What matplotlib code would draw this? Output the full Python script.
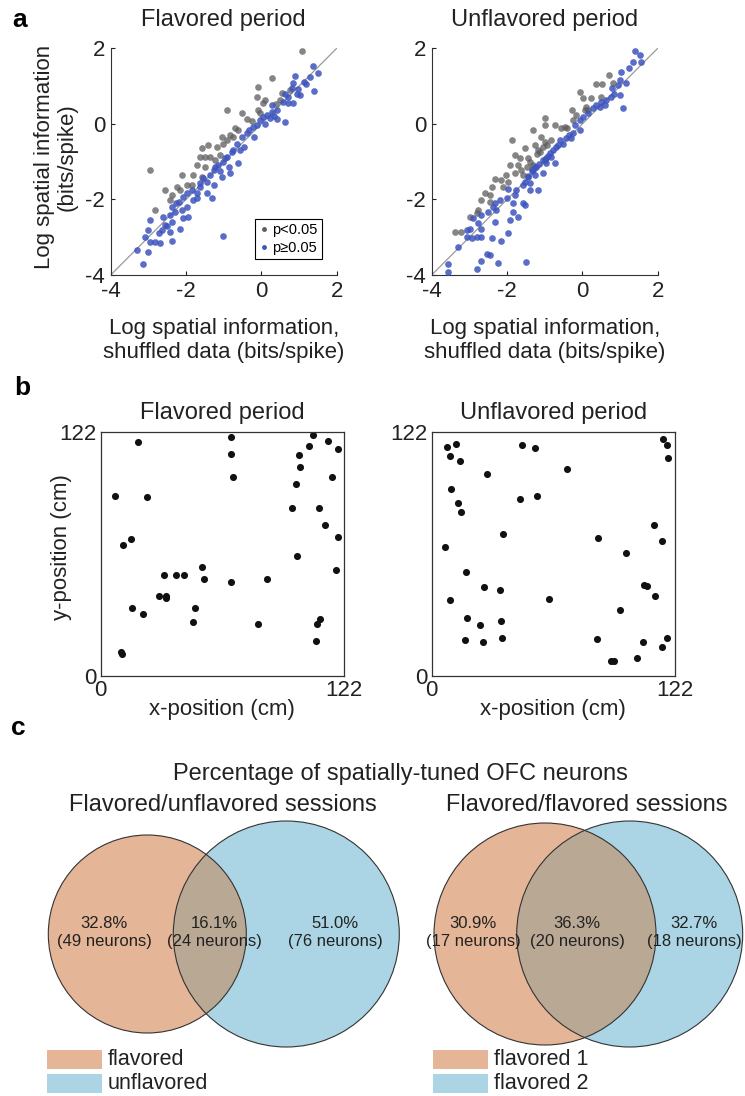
import matplotlib.pyplot as plt
import numpy as np
from matplotlib.patches import Circle, Polygon, Rectangle
from matplotlib.lines import Line2D

plt.rcParams['font.family'] = ['Liberation Sans', 'DejaVu Sans']
plt.rcParams['axes.unicode_minus'] = False

# ---- panel a: log spatial information, shuffled (x) vs real (y) ----
fl_sig_x = [1.07, 0.27, -0.08, -0.12, 0.10, 0.05, -0.92, -0.52, -0.08, -0.04, -0.26, -0.39, 0.54, 0.50,
            0.39, 0.76, -0.70, -0.61, -0.74, -0.92, -1.05, -1.01, -1.19, -1.41, -1.58, -1.36, -1.50, -1.63,
            -1.72, -1.50, -1.81, -1.58, -2.12, -2.96, -1.98, -1.85, -2.16, -2.56, -2.38, -2.42, -2.82, -0.83,
            -1.10, -1.23, -2.25]
fl_sig_y = [1.94, 1.22, 0.97, 0.72, 0.63, 0.56, 0.37, 0.28, 0.37, 0.30, 0.08, 0.12, 0.81, 0.63,
            0.53, 0.90, -0.12, -0.16, -0.34, -0.43, -0.34, -0.52, -0.60, -0.56, -0.65, -0.87, -0.87, -0.87,
            -1.09, -1.13, -1.35, -1.40, -1.35, -1.22, -1.62, -1.62, -1.75, -1.75, -1.88, -2.02, -2.28, -0.30,
            -0.83, -0.96, -1.66]
fl_ns_x = [1.36, 1.50, 0.89, 1.29, 1.12, 0.85, 1.19, 0.81, 0.63, 0.98, 1.40, 0.72, 0.85, 0.58, 0.41,
           0.27, 0.14, 0.23, 0.05, -0.12, -0.23, 0.41, 0.63, -0.39, -0.52, -0.65, -0.57, -0.79, -0.61,
           -0.92, -1.01, -1.14, -0.83, -1.05, -1.27, -1.36, -1.45, -1.27, -1.54, -1.63, -1.45, -1.32,
           -1.72, -1.81, -1.98, -2.07, -2.20, -1.98, -1.94, -2.07, -2.29, -2.38, -2.42, -2.60, -2.56,
           -2.65, -2.38, -2.16, -2.42, -2.73, -2.69, -2.38, -2.96, -3.00, -3.09, -2.96, -2.82, -3.00,
           -3.31, -3.13, -1.01, 1.03, 0.27, -0.04, -0.34, -0.74, -0.96, -1.23, -1.63, -1.85, -2.27, -2.12,
           0.70, 0.33, -0.20, -0.45, -1.10, -1.70, -2.50, 0.95, 0.10, -0.85]
fl_ns_y = [1.54, 1.34, 1.27, 1.25, 1.12, 1.07, 1.06, 0.94, 0.79, 0.91, 0.87, 0.72, 0.56, 0.59, 0.37,
           0.32, 0.23, 0.15, 0.17, -0.03, -0.07, 0.12, 0.06, -0.25, -0.34, -0.52, -0.69, -0.74, -1.03,
           -0.87, -1.00, -1.09, -1.31, -1.40, -1.22, -1.35, -1.53, -1.62, -1.44, -1.57, -1.84, -1.97,
           -1.84, -2.02, -1.84, -1.93, -2.06, -2.19, -2.46, -2.50, -2.32, -2.19, -2.41, -2.46, -2.68,
           -2.81, -2.59, -2.77, -2.86, -2.90, -3.16, -3.10, -2.55, -2.81, -2.99, -3.12, -3.12, -3.38,
           -3.34, -3.71, -2.97, 0.76, 0.50, 0.10, -0.16, -0.69, -0.91, -1.13, -1.66, -1.75, -2.10, -2.28,
           0.55, 0.20, -0.35, -0.60, -1.25, -1.95, -2.70, 0.80, 0.00, -1.15]

uf_sig_x = [0.70, 0.35, 0.53, 0.81, -0.05, 0.03, 0.24, 0.50, -0.27, 0.06, 0.15, -0.16, -0.25, -1.00,
            -1.00, -0.73, -0.56, -0.47, -1.31, -1.09, -1.86, -1.53, -1.26, -1.00, -0.82, -1.13, -1.79,
            -1.66, -1.44, -1.93, -1.71, -1.48, -1.62, -1.79, -1.57, -2.02, -2.15, -1.97, -2.32, -2.41,
            -2.10, -2.59, -2.46, -2.68, -2.46, -2.76, -2.99, -2.81, -3.38, -3.21, -1.18, -1.40, -1.31,
            -1.20, -1.35, -1.05, -0.95, -0.40, 0.10]
uf_sig_y = [1.29, 1.06, 1.06, 1.09, 0.85, 0.68, 0.68, 0.72, 0.37, 0.37, 0.38, 0.23, 0.10, 0.15,
            -0.03, -0.03, -0.12, -0.07, -0.16, -0.34, -0.43, -0.65, -0.56, -0.47, -0.43, -0.74, -0.82,
            -0.91, -0.91, -1.09, -1.09, -1.13, -1.22, -1.31, -1.35, -1.35, -1.49, -1.53, -1.47, -1.66,
            -1.66, -1.84, -1.88, -2.02, -2.06, -2.28, -2.46, -2.37, -2.85, -2.85, -0.69, -1.00, -1.09,
            -0.80, -1.20, -0.60, -0.55, -0.10, 0.45]
uf_ns_x = [1.41, 1.52, 1.34, 1.56, 1.03, 1.23, 0.99, 1.16, 0.94, 0.79, 0.99, 0.77, 0.63, 0.50, 0.37,
           0.46, 1.07, 0.28, 0.15, 0.02, -0.07, -0.20, -0.07, -0.25, -0.43, -0.29, -0.60, -0.51, -0.69,
           -0.78, -0.87, -0.96, -1.04, -0.96, -0.73, -0.82, -1.22, -1.31, -1.26, -1.04, -1.44, -1.53,
           -1.40, -1.57, -1.40, -1.18, -1.75, -1.97, -1.79, -2.01, -2.19, -2.32, -2.37, -2.50, -2.28,
           -1.84, -1.53, -1.57, -1.84, -1.71, -1.93, -2.32, -2.68, -2.90, -2.76, -2.99, -2.68, -3.07,
           -2.94, -2.68, -2.81, -2.41, -1.97, -2.15, -3.29, -2.54, -2.46, -2.68, -2.23, -1.50, -2.79,
           -3.58, -3.56, -3.07, -1.35, -1.45, -1.25, -0.90, -0.65, -0.35, 0.60, 0.85, -1.15, -1.00]
uf_ns_y = [1.94, 1.82, 1.65, 1.65, 1.38, 1.49, 1.16, 1.07, 1.03, 0.94, 0.76, 0.72, 0.63, 0.59, 0.50,
           0.44, 0.41, 0.41, 0.30, 0.17, 0.10, -0.03, -0.16, -0.25, -0.38, -0.38, -0.43, -0.52, -0.60,
           -0.69, -0.78, -0.91, -0.96, -1.04, -1.03, -0.87, -1.13, -1.22, -1.35, -1.31, -1.40, -1.53,
           -1.57, -1.62, -1.75, -1.75, -1.75, -1.73, -1.88, -1.97, -2.02, -2.10, -2.19, -2.32, -2.28,
           -2.10, -2.15, -2.10, -2.32, -2.46, -2.55, -2.59, -2.41, -2.50, -2.63, -2.77, -2.77, -2.99,
           -3.03, -2.99, -2.99, -3.03, -2.90, -3.10, -3.25, -3.45, -3.47, -3.63, -3.67, -3.65, -3.85,
           -3.72, -3.91, -2.81, -1.25, -1.38, -1.15, -0.85, -0.55, -0.30, 0.50, 0.78, -1.05, -0.95]

# ---- panel b: place-field peak positions (cm) ----
fl_pos_x = [65.2, 106.3, 18.9, 113.8, 104.6, 118.8, 65.5, 99.4, 99.9, 66.3, 115.8, 97.9, 7.2, 23.1,
            96.1, 109.5, 112.3, 119.2, 15.0, 11.2, 98.3, 51.0, 118.0, 31.6, 37.8, 42.0, 51.8, 65.5,
            83.6, 29.4, 32.6, 32.6, 15.5, 21.2, 47.3, 46.5, 109.8, 108.5, 79.1, 108.0, 10.4, 10.5]
fl_pos_y = [119.5, 120.2, 116.7, 117.2, 115.0, 113.5, 110.8, 110.4, 104.4, 99.4, 99.2, 95.7, 89.9, 89.2,
            83.7, 83.7, 75.6, 69.6, 68.4, 65.6, 60.1, 54.4, 53.1, 50.3, 50.3, 50.3, 48.4, 46.8,
            48.4, 39.9, 39.9, 38.8, 34.0, 30.8, 34.0, 27.0, 28.6, 26.0, 26.1, 17.5, 11.8, 11.0]
uf_pos_x = [116.1, 118.2, 7.5, 12.0, 45.5, 51.8, 9.2, 14.4, 118.3, 27.9, 67.9, 9.9, 44.3, 52.8, 13.0,
            14.5, 35.9, 111.3, 83.6, 115.5, 6.9, 97.3, 17.0, 26.1, 34.3, 58.7, 106.6, 107.8, 112.1, 9.2,
            94.4, 17.9, 24.2, 34.9, 16.9, 25.6, 35.3, 82.7, 106.1, 118.2, 115.7, 103.1, 89.7, 91.5]
uf_pos_y = [118.3, 115.3, 114.5, 115.8, 115.5, 113.8, 110.0, 107.5, 109.0, 100.9, 103.4, 93.5, 88.4, 90.0,
            86.2, 82.1, 71.1, 75.6, 68.9, 67.2, 64.2, 61.3, 51.9, 44.3, 43.1, 38.4, 45.3, 45.0, 39.8,
            37.8, 32.8, 29.0, 25.5, 27.5, 18.1, 17.0, 19.1, 18.5, 16.8, 19.0, 14.6, 8.8, 7.5, 7.5]

# ---- panel c: venn percentages / counts ----
venn_titles = ['Flavored/unflavored sessions', 'Flavored/flavored sessions']
venn_pct = [[32.8, 16.1, 51.0], [30.9, 36.3, 32.7]]
venn_n = [[49, 24, 76], [17, 20, 18]]
venn_legend = [['flavored', 'unflavored'], ['flavored 1', 'flavored 2']]

W, H = 745, 1096
fig = plt.figure(figsize=(W / 100, H / 100), dpi=100)


def px_axes(x0, y0, x1, y1):
    # pixel box (top-left origin) -> figure fraction axes
    return fig.add_axes([x0 / W, 1 - y1 / H, (x1 - x0) / W, (y1 - y0) / H])


GRAY = '#5c5c5c'
BLUE = '#3d54bd'

for k, (x0, sx, sy, nx, ny, title) in enumerate([
        (110.7, fl_sig_x, fl_sig_y, fl_ns_x, fl_ns_y, 'Flavored period'),
        (431.7, uf_sig_x, uf_sig_y, uf_ns_x, uf_ns_y, 'Unflavored period')]):
    ax = px_axes(x0, 48.3, x0 + 226, 275)
    ax.plot([-4, 2], [-4, 2], color='#9a9a9a', lw=0.9, zorder=1)
    ax.scatter(sx, sy, s=23, color=GRAY, alpha=0.75, linewidths=0, zorder=2)
    ax.scatter(nx, ny, s=23, color=BLUE, alpha=0.85, linewidths=0, zorder=3)
    ax.set_xlim(-4, 2)
    ax.set_ylim(-4, 2)
    ax.set_xticks([-4, -2, 0, 2])
    ax.set_yticks([-4, -2, 0, 2])
    ax.tick_params(direction='in', length=3, width=0.8, labelsize=16, pad=4, colors='#222222')
    for s in ['top', 'right']:
        ax.spines[s].set_visible(False)
    for s in ['left', 'bottom']:
        ax.spines[s].set_linewidth(0.8)
        ax.spines[s].set_color('#333333')
    ax.text(0.5, 1.125, title, transform=ax.transAxes, ha='center', va='center', fontsize=17, color='#222222')
    ax.text(0.5, -0.29, 'Log spatial information,\nshuffled data (bits/spike)', transform=ax.transAxes,
            ha='center', va='center', fontsize=16, color='#222222', linespacing=1.2)
    if k == 0:
        ax.text(-0.245, 0.52, 'Log spatial information\n(bits/spike)', transform=ax.transAxes, rotation=90,
                ha='center', va='center', fontsize=16, color='#222222', linespacing=1.1)
        handles = [Line2D([], [], ls='', marker='o', ms=3.5, color=GRAY, mec='none'),
                   Line2D([], [], ls='', marker='o', ms=3.5, color=BLUE, mec='none')]
        leg = ax.legend(handles, ['p<0.05', 'p\u22650.05'], loc='lower right', bbox_to_anchor=(0.935, 0.07),
                        fontsize=10.5, handlelength=0.6, handletextpad=0.3, borderpad=0.3, labelspacing=0.25,
                        fancybox=False, framealpha=1, borderaxespad=0)
        leg.get_frame().set_edgecolor('black')
        leg.get_frame().set_linewidth(0.8)

for k, (x0, px, py, title) in enumerate([(100.7, fl_pos_x, fl_pos_y, 'Flavored period'),
                                          (431.7, uf_pos_x, uf_pos_y, 'Unflavored period')]):
    ax = px_axes(x0, 431.7, x0 + 243.3, 676)
    ax.scatter(px, py, s=26, color='#111111', linewidths=0)
    ax.set_xlim(0, 122)
    ax.set_ylim(0, 122)
    ax.set_xticks([0, 122])
    ax.set_yticks([0, 122])
    ax.tick_params(length=0, labelsize=16, pad=3, colors='#222222')
    for s in ax.spines.values():
        s.set_linewidth(0.9)
        s.set_color('#333333')
    ax.text(0.5, 1.077, title, transform=ax.transAxes, ha='center', va='center', fontsize=17, color='#222222')
    ax.text(0.5, -0.139, 'x-position (cm)', transform=ax.transAxes, ha='center', va='center',
            fontsize=16, color='#222222')
    if k == 0:
        ax.text(-0.16, 0.528, 'y-position (cm)', transform=ax.transAxes, rotation=90, ha='center',
                va='center', fontsize=16, color='#222222')

# panel c drawn in pixel coordinates
axc = fig.add_axes([0, 0, 1, 0.36])
axc.set_xlim(0, W)
axc.set_ylim(H, H - 0.36 * H)
axc.axis('off')

SALMON = '#e4b597'
LBLUE = '#abd5e4'
MIX = '#b9a894'
circles = [((147.3, 934, 99), (286.3, 934, 113)), ((545, 934, 111), (629.7, 934, 113))]
text_x = [(104, 214, 335), (473, 577, 694)]
title_x = [223, 587]
leg_x = [47, 433]

for i in range(2):
    (x1, y1, r1), (x2, y2, r2) = circles[i]
    axc.add_patch(Circle((x1, y1), r1, facecolor=SALMON, edgecolor='none'))
    axc.add_patch(Circle((x2, y2), r2, facecolor=LBLUE, edgecolor='none'))
    d = x2 - x1
    a = (d ** 2 + r1 ** 2 - r2 ** 2) / (2 * d)
    p1 = np.arccos(a / r1)
    p2 = np.arccos((d - a) / r2)
    t1 = np.linspace(-p1, p1, 120)
    t2 = np.linspace(np.pi - p2, np.pi + p2, 120)
    lens = np.vstack([np.column_stack([x1 + r1 * np.cos(t1), y1 + r1 * np.sin(t1)]),
                      np.column_stack([x2 + r2 * np.cos(t2), y2 + r2 * np.sin(t2)])])
    axc.add_patch(Polygon(lens, closed=True, facecolor=MIX, edgecolor='none'))
    axc.add_patch(Circle((x1, y1), r1, facecolor='none', edgecolor='#333333', lw=0.8))
    axc.add_patch(Circle((x2, y2), r2, facecolor='none', edgecolor='#333333', lw=0.8))
    for j in range(3):
        axc.text(text_x[i][j], 933, f'{venn_pct[i][j]:.1f}%\n({venn_n[i][j]} neurons)', ha='center',
                 va='center', fontsize=12, color='#222222', linespacing=1.25)
    axc.text(title_x[i], 805, venn_titles[i], ha='center', va='center', fontsize=17, color='#222222')
    for j, col in enumerate([SALMON, LBLUE]):
        yy = 1050 + j * 24
        axc.add_patch(Rectangle((leg_x[i], yy), 55, 19, facecolor=col, edgecolor='none'))
        axc.text(leg_x[i] + 61, yy + 10, venn_legend[i][j], ha='left', va='center', fontsize=15.5,
                 color='#222222')

axc.text(400, 774, 'Percentage of spatially-tuned OFC neurons', ha='center', va='center', fontsize=17,
         color='#222222')

for lab, (x, y) in zip('abc', [(20, 20), (22, 388), (18, 728)]):
    fig.text(x / W, 1 - y / H, lab, ha='center', va='center', fontsize=19, fontweight='bold')

fig.savefig('out.png', dpi=100)
